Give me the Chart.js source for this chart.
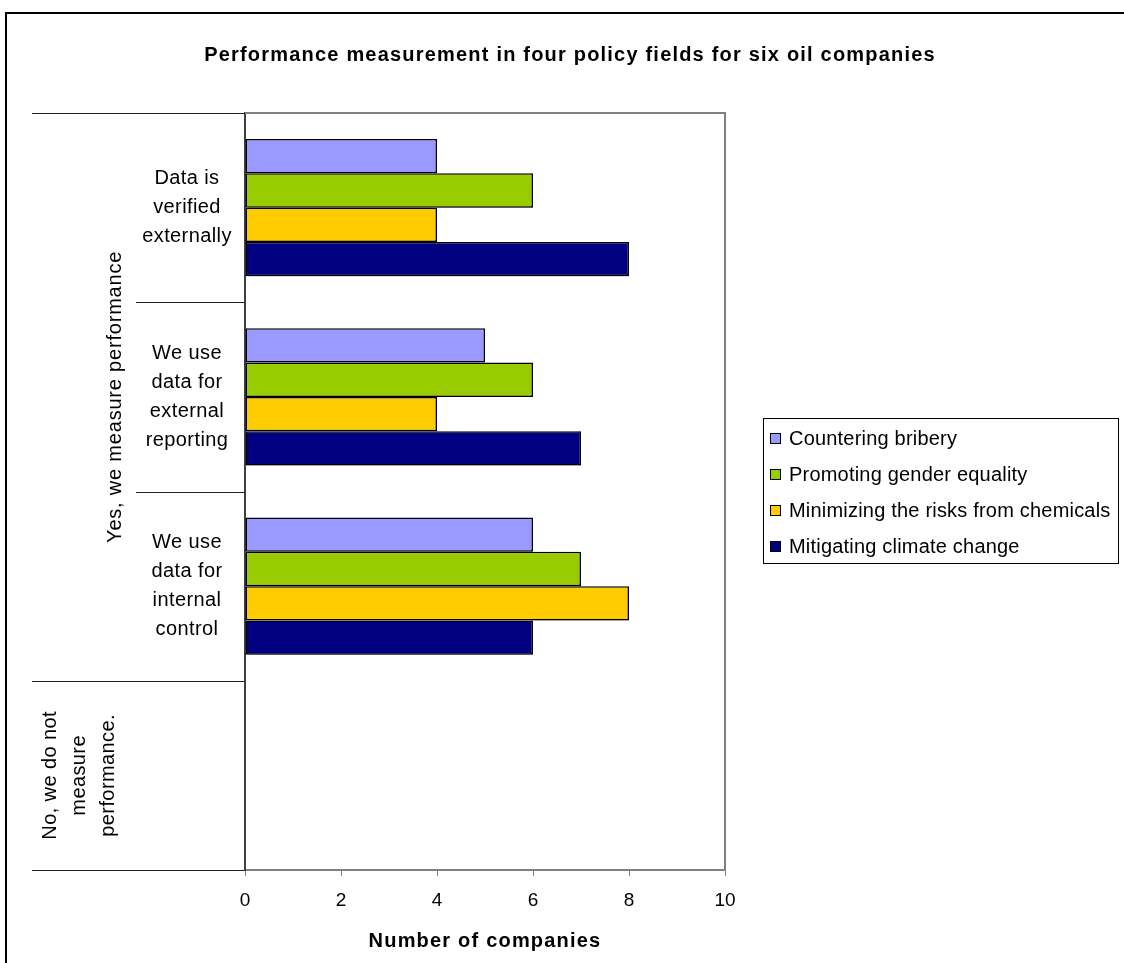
<!DOCTYPE html>
<html>
<head>
<meta charset="utf-8">
<title>Performance measurement in four policy fields for six oil companies</title>
<script src="https://cdn.jsdelivr.net/npm/chart.js@4.4.1/dist/chart.umd.min.js"></script>
<style>
  html, body { margin: 0; padding: 0; background: #ffffff; }
  #wrap { width: 1124px; height: 963px; position: relative; }
</style>
</head>
<body>
<div id="wrap"><canvas id="chart" width="1124" height="963"></canvas></div>
<script>
// Category labels (inner level), one array of lines per category, top to bottom
const categories = [
  ['Data is', 'verified', 'externally'],
  ['We use', 'data for', 'external', 'reporting'],
  ['We use', 'data for', 'internal', 'control'],
  ['No, we do not', 'measure', 'performance.']
];
// Outer grouping label spanning the first three categories
const groupLabel = 'Yes, we measure performance';
const groupSize = 3;

const seriesNames = [
  'Countering bribery',
  'Promoting gender equality',
  'Minimizing the risks from chemicals',
  'Mitigating climate change'
];
const bribery   = [4, 5, 6, 0];
const gender    = [6, 6, 7, 0];
const chemicals = [4, 4, 8, 0];
const climate   = [8, 7, 6, 0];
const xTicks = [0, 2, 4, 6, 8, 10];

const chartTitle = 'Performance measurement in four policy fields for six oil companies';
const xTitle = 'Number of companies';

const seriesColors = ['#9999FF', '#99CC00', '#FFCC00', '#000080'];
const FONT = '"Liberation Sans", Arial, sans-serif';

const seriesValues = [bribery, gender, chemicals, climate];
const categoryKeys = categories.map(c => c.join(' '));

// Subtle drop shadow under the bars
const barShadow = {
  id: 'barShadow',
  beforeDatasetsDraw(chart) {
    const ctx = chart.ctx;
    ctx.save();
    ctx.shadowColor = 'rgba(0,0,0,0.28)';
    ctx.shadowOffsetX = 2;
    ctx.shadowOffsetY = 2;
    ctx.shadowBlur = 2;
  },
  afterDatasetsDraw(chart) {
    chart.ctx.restore();
  }
};

// Frame, category dividers, multi-level labels, legend box and titles
const decorations = {
  id: 'decorations',
  afterDraw(chart) {
    const ctx = chart.ctx;
    const area = chart.chartArea;
    const ys = chart.scales.y;

    ctx.save();

    // outer border of the figure
    ctx.strokeStyle = '#000000';
    ctx.lineWidth = 2;
    ctx.beginPath();
    ctx.moveTo(6, 1000);
    ctx.lineTo(6, 13);
    ctx.lineTo(1200, 13);
    ctx.stroke();

    // plot area top and right edges
    ctx.strokeStyle = '#808080';
    ctx.lineWidth = 2;
    ctx.beginPath();
    ctx.moveTo(area.left, area.top);
    ctx.lineTo(area.right, area.top);
    ctx.lineTo(area.right, area.bottom);
    ctx.stroke();

    // category divider lines to the left of the axis
    const c0 = ys.getPixelForValue(0);
    const c1 = ys.getPixelForValue(1);
    const step = c1 - c0;
    ctx.strokeStyle = '#222222';
    ctx.lineWidth = 1;
    for (let k = 0; k <= categories.length; k++) {
      const yy = Math.round(c0 - step / 2 + k * step) + 0.5;
      const outer = (k === 0 || k >= groupSize);
      ctx.beginPath();
      ctx.moveTo(outer ? 32 : 136, yy);
      ctx.lineTo(area.left, yy);
      ctx.stroke();
    }

    // category labels
    ctx.fillStyle = '#000000';
    ctx.font = '20px ' + FONT;
    ctx.letterSpacing = '0.4px';
    ctx.textAlign = 'center';
    ctx.textBaseline = 'middle';
    const lh = 29;
    categories.forEach((lines, i) => {
      const cy = ys.getPixelForValue(i);
      if (i < groupSize) {
        lines.forEach((t, j) => {
          ctx.fillText(t, 187, cy + (j - (lines.length - 1) / 2) * lh);
        });
      } else {
        ctx.save();
        ctx.translate(79, cy);
        ctx.rotate(-Math.PI / 2);
        lines.forEach((t, j) => {
          ctx.fillText(t, 0, (j - (lines.length - 1) / 2) * lh);
        });
        ctx.restore();
      }
    });

    // outer group label
    const gy = (ys.getPixelForValue(0) + ys.getPixelForValue(groupSize - 1)) / 2;
    ctx.save();
    ctx.letterSpacing = '0.8px';
    ctx.translate(115, gy);
    ctx.rotate(-Math.PI / 2);
    ctx.fillText(groupLabel, 0, 0);
    ctx.restore();

    // chart title and axis title
    ctx.font = 'bold 20px ' + FONT;
    ctx.letterSpacing = '1.2px';
    ctx.fillText(chartTitle, 570, 55);
    ctx.fillText(xTitle, (area.left + area.right) / 2, 941);

    // legend
    const lx = 763, ly = 418, lw = 355, lhBox = 145;
    ctx.strokeStyle = '#000000';
    ctx.lineWidth = 1;
    ctx.strokeRect(lx + 0.5, ly + 0.5, lw, lhBox);
    ctx.font = '20px ' + FONT;
    ctx.letterSpacing = '0.2px';
    ctx.textAlign = 'left';
    chart.data.datasets.forEach((ds, i) => {
      const ey = 438 + i * 36;
      ctx.fillStyle = ds.backgroundColor;
      ctx.fillRect(770, ey - 5, 10, 10);
      ctx.strokeStyle = '#000000';
      ctx.strokeRect(770.5, ey - 4.5, 10, 10);
      ctx.fillStyle = '#000000';
      ctx.fillText(ds.label, 789, ey + 1);
    });

    ctx.restore();
  }
};

new Chart(document.getElementById('chart'), {
  type: 'bar',
  data: {
    labels: categoryKeys,
    datasets: seriesNames.map((name, i) => ({
      label: name,
      data: seriesValues[i],
      backgroundColor: seriesColors[i],
      borderColor: '#000000',
      borderWidth: 1.5,
      borderSkipped: false,
      categoryPercentage: 0.725,
      barPercentage: 1.0
    }))
  },
  options: {
    indexAxis: 'y',
    responsive: false,
    animation: false,
    layout: { padding: { left: 0, right: 399, top: 113, bottom: 0 } },
    plugins: {
      legend: { display: false },
      tooltip: { enabled: false },
      title: { display: false }
    },
    scales: {
      x: {
        type: 'linear',
        position: 'bottom',
        min: 0,
        max: 10,
        afterBuildTicks(scale) { scale.ticks = xTicks.map(v => ({ value: v })); },
        afterFit(scale) { scale.height = 93; },
        grid: { display: true, drawOnChartArea: false, drawTicks: true, tickLength: 6, color: '#808080', lineWidth: 1 },
        border: { display: true, color: '#808080', width: 2 },
        ticks: { font: { family: FONT, size: 19 }, color: '#000000', padding: 13 },
        title: { display: false }
      },
      y: {
        type: 'category',
        position: 'left',
        afterFit(scale) { scale.width = 245; },
        grid: { display: false },
        border: { display: true, color: '#404040', width: 2 },
        ticks: { display: false }
      }
    }
  },
  plugins: [barShadow, decorations]
});
</script>
</body>
</html>
